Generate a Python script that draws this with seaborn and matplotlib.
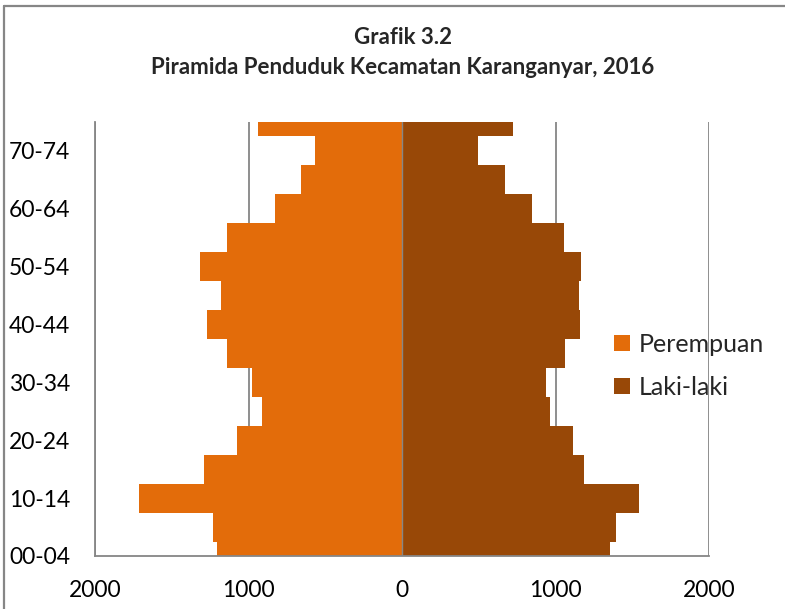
import matplotlib
matplotlib.use("Agg")
import matplotlib.pyplot as plt
import seaborn as sns
import pandas as pd
from matplotlib.patches import Patch
from matplotlib.lines import Line2D

# ---- data ----
age_groups = ["00-04", "05-09", "10-14", "15-19", "20-24", "25-29", "30-34", "35-39",
              "40-44", "45-49", "50-54", "55-59", "60-64", "65-69", "70-74", "75+"]
perempuan = [1203, 1231, 1713, 1290, 1077, 910, 977, 1140,
             1270, 1177, 1318, 1142, 829, 660, 569, 938]
laki_laki = [1353, 1392, 1544, 1188, 1112, 962, 938, 1062,
             1158, 1153, 1168, 1053, 845, 669, 498, 723]
x_ticks = [-2000, -1000, 0, 1000, 2000]
x_tick_labels = ["2000", "1000", "0", "1000", "2000"]
shown_labels = ["00-04", "10-14", "20-24", "30-34", "40-44", "50-54", "60-64", "70-74"]

title1 = "Grafik 3.2"
title2 = "Piramida Penduduk Kecamatan Karanganyar, 2016"

c_f = "#E36C0A"
c_m = "#984807"
grid_c = "#868686"

sns.set_theme(style="white")
plt.rcParams['font.family'] = ['Lato', 'DejaVu Sans']

df = pd.DataFrame({
    "age": age_groups,
    "Perempuan": [-v for v in perempuan],
    "Laki-laki": laki_laki,
})

fig = plt.figure(figsize=(7.85, 6.09), dpi=100)
ax = fig.add_axes([95/785, 1-556/609, (709-95)/785, (556-122)/609])

sns.barplot(data=df, x="Perempuan", y="age", order=age_groups, orient="h",
            color=c_f, saturation=1, width=1.0, ax=ax, linewidth=0)
sns.barplot(data=df, x="Laki-laki", y="age", order=age_groups, orient="h",
            color=c_m, saturation=1, width=1.0, ax=ax, linewidth=0)

ax.set_ylim(0, 15)
ax.set_xlim(-2000, 2000)
ax.set_xlabel("")
ax.set_ylabel("")

ax.set_xticks(x_ticks)
ax.set_xticklabels(x_tick_labels, fontsize=16.5, color="black")
ypos = [age_groups.index(l) for l in shown_labels]
ax.set_yticks(ypos)
ax.set_yticklabels(shown_labels, fontsize=16.5, color="black")
ax.tick_params(axis="x", length=0, pad=17)
ax.tick_params(axis="y", length=0, pad=18)

ax.set_axisbelow(True)
ax.grid(axis="x", color=grid_c, linewidth=1.3)
ax.grid(axis="y", visible=False)
ax.axvline(0, color=grid_c, linewidth=1.0, zorder=5)

for s in ["top", "right"]:
    ax.spines[s].set_visible(False)
for s in ["left", "bottom"]:
    ax.spines[s].set_color(grid_c)
    ax.spines[s].set_linewidth(1.3)
    ax.spines[s].set_zorder(6)

handles = [Patch(facecolor=c_f, edgecolor="none", label="Perempuan"),
           Patch(facecolor=c_m, edgecolor="none", label="Laki-laki")]
fig.legend(handles=handles, loc="center left", bbox_to_anchor=(614/785, 1-366/609),
           frameon=False, fontsize=18, handlelength=0.62, handleheight=0.62,
           handletextpad=0.38, labelspacing=0.8, borderpad=0, borderaxespad=0)

fig.text(403/785, 1-38/609, title1, ha="center", va="center", fontsize=16, fontweight="bold")
fig.text(403/785, 1-68/609, title2, ha="center", va="center", fontsize=16, fontweight="bold")

# outer chart border (top and left edges visible)
fig.add_artist(Line2D([3.5/785, 1.0], [1-6/609, 1-6/609], transform=fig.transFigure,
                      color=grid_c, linewidth=1.6))
fig.add_artist(Line2D([3.5/785, 3.5/785], [0, 1-6/609], transform=fig.transFigure,
                      color=grid_c, linewidth=1.6))

fig.savefig("out.png", dpi=100)
